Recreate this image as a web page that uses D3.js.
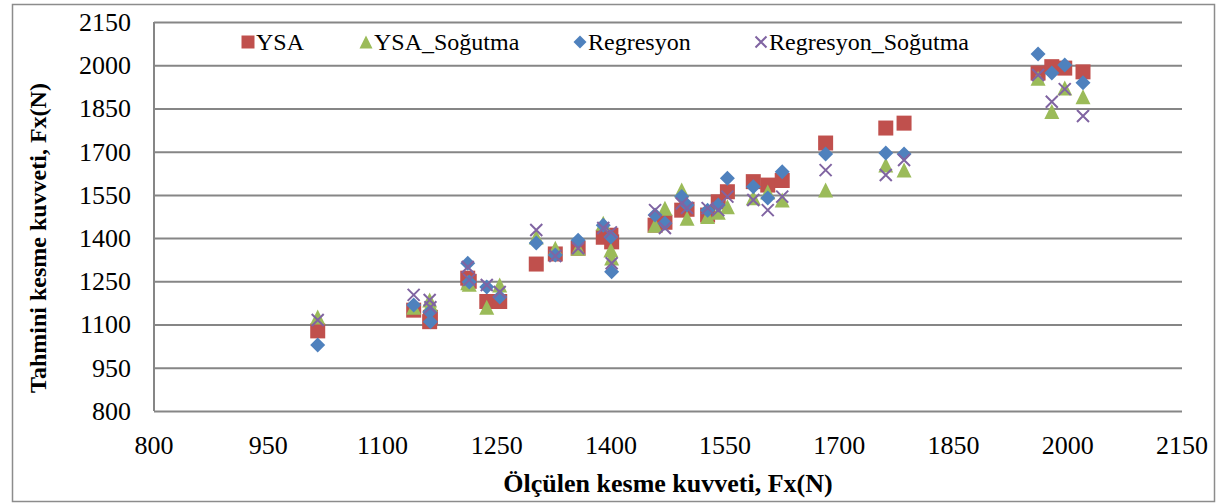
<!DOCTYPE html>
<html>
<head>
<meta charset="utf-8">
<script src="https://cdn.jsdelivr.net/npm/d3@7"></script>
<style>
  body { margin: 0; background: #fff; }
  svg { display: block; }
  .tick-label { font-family: "Liberation Serif", "Times New Roman", serif; font-size: 26px; fill: #000; }
  .axis-title { font-family: "Liberation Serif", "Times New Roman", serif; font-size: 26px; font-weight: bold; fill: #000; }
  .legend-text { font-family: "Liberation Serif", "Times New Roman", serif; font-size: 24px; fill: #000; }
</style>
</head>
<body>
<div id="chart"></div>
<script>
// measured force (x) and the four predictions (y)
const measured = [1015, 1141, 1162, 1163, 1212, 1214, 1237, 1254, 1302, 1327, 1357, 1390, 1400, 1401, 1458, 1471, 1493, 1500, 1527, 1541, 1553, 1587, 1606, 1625, 1682, 1761, 1785, 1961, 1979, 1996, 2020];
const ysa = [1078, 1150, 1110, 1125, 1261, 1250, 1180, 1180, 1310, 1345, 1365, 1403, 1410, 1387, 1445, 1455, 1497, 1500, 1480, 1526, 1561, 1596, 1584, 1600, 1730, 1782, 1799, 1973, 1995, 1990, 1977];
const ysaSogutma = [1126, 1160, 1185, 1170, 1245, 1240, 1160, 1237, 1404, 1365, 1365, 1452, 1359, 1331, 1445, 1504, 1567, 1469, 1475, 1490, 1509, 1540, 1560, 1532, 1567, 1654, 1636, 1955, 1839, 1921, 1891];
const regresyon = [1029, 1168, 1144, 1110, 1313, 1248, 1230, 1196, 1383, 1341, 1393, 1445, 1404, 1283, 1480, 1452, 1544, 1515, 1497, 1515, 1608, 1578, 1539, 1630, 1692, 1695, 1692, 2039, 1973, 2001, 1939];
const regresyonSogutma = [1116, 1203, 1185, 1160, 1300, 1255, 1237, 1213, 1428, 1338, 1365, 1435, 1420, 1313, 1497, 1435, 1520, 1505, 1504, 1497, 1544, 1532, 1497, 1544, 1636, 1619, 1671, 1966, 1873, 1917, 1824];

const seriesNames = ['YSA', 'YSA_Soğutma', 'Regresyon', 'Regresyon_Soğutma'];
const xTicks = [800, 950, 1100, 1250, 1400, 1550, 1700, 1850, 2000, 2150];
const yTicks = [800, 950, 1100, 1250, 1400, 1550, 1700, 1850, 2000, 2150];

const width = 1217, height = 503;
const margin = { top: 22, right: 35, bottom: 92, left: 154 };

const svg = d3.select('#chart').append('svg')
  .attr('width', width)
  .attr('height', height);

svg.append('rect')
  .attr('x', 12.5).attr('y', 4.5)
  .attr('width', 1202).attr('height', 497)
  .attr('fill', '#fff')
  .attr('stroke', '#8c8c8c')
  .attr('stroke-width', 1.5);

const x = d3.scaleLinear().domain([800, 2150]).range([margin.left, width - margin.right]);
const y = d3.scaleLinear().domain([800, 2150]).range([height - margin.bottom, margin.top]);

// gridlines
svg.append('g')
  .attr('transform', `translate(${margin.left},0)`)
  .call(d3.axisLeft(y).tickValues(yTicks).tickSize(-(x.range()[1] - x.range()[0])).tickFormat(''))
  .call(g => g.select('.domain').remove())
  .call(g => g.selectAll('line').attr('stroke', '#868686').attr('stroke-width', 2));

// left axis line
svg.append('line')
  .attr('x1', margin.left).attr('x2', margin.left)
  .attr('y1', y(2150)).attr('y2', y(800))
  .attr('stroke', '#868686').attr('stroke-width', 2);

svg.selectAll('.ylab')
  .data(yTicks)
  .enter().append('text')
  .attr('class', 'tick-label')
  .attr('x', 131)
  .attr('y', d => y(d))
  .attr('dy', '0.34em')
  .attr('text-anchor', 'end')
  .text(d => d);

svg.selectAll('.xlab')
  .data(xTicks)
  .enter().append('text')
  .attr('class', 'tick-label')
  .attr('x', d => x(d))
  .attr('y', 454)
  .attr('text-anchor', 'middle')
  .text(d => d);

svg.append('text')
  .attr('class', 'axis-title')
  .attr('x', (x.range()[0] + x.range()[1]) / 2)
  .attr('y', 492)
  .attr('text-anchor', 'middle')
  .text('Ölçülen kesme kuvveti, Fx(N)');

svg.append('text')
  .attr('class', 'axis-title')
  .style('font-size', '24px')
  .attr('transform', 'translate(46,238) rotate(-90)')
  .attr('text-anchor', 'middle')
  .text('Tahmini kesme kuvveti, Fx(N)');

// marker shapes, centred on 0,0
const shapes = {
  square: s => `M${-s / 2},${-s / 2}h${s}v${s}h${-s}Z`,
  triangle: s => `M0,${-s / 2}L${s / 2},${s / 2}L${-s / 2},${s / 2}Z`,
  diamond: s => `M0,${-s / 2}L${s / 2},0L0,${s / 2}L${-s / 2},0Z`,
  cross: s => `M${-s / 2},${-s / 2}L${s / 2},${s / 2}M${s / 2},${-s / 2}L${-s / 2},${s / 2}`
};

const series = [
  { name: seriesNames[0], values: ysa, shape: 'square', size: 15, color: '#c0504d' },
  { name: seriesNames[1], values: ysaSogutma, shape: 'triangle', size: 15, color: '#9bbb59' },
  { name: seriesNames[2], values: regresyon, shape: 'diamond', size: 15, color: '#4f81bd' },
  { name: seriesNames[3], values: regresyonSogutma, shape: 'cross', size: 12, color: '#8064a2' }
];

function drawMarker(sel, s) {
  sel.attr('d', shapes[s.shape](s.size));
  if (s.shape === 'cross') {
    sel.attr('fill', 'none').attr('stroke', s.color).attr('stroke-width', 2);
  } else {
    sel.attr('fill', s.color);
  }
}

series.forEach(s => {
  svg.append('g')
    .selectAll('path')
    .data(measured.map((m, i) => ({ x: m, y: s.values[i] })))
    .enter().append('path')
    .attr('transform', d => `translate(${x(d.x)},${y(d.y)})`)
    .call(drawMarker, s);
});

// legend
const legendX = [248, 366, 580, 761];
const legend = svg.append('g');
series.forEach((s, i) => {
  legend.append('path')
    .attr('transform', `translate(${legendX[i]},42)`)
    .call(drawMarker, Object.assign({}, s, { size: s.shape === 'cross' ? 11 : 13 }));
  legend.append('text')
    .attr('class', 'legend-text')
    .attr('x', legendX[i] + 8)
    .attr('y', 50)
    .text(s.name);
});
</script>
</body>
</html>
